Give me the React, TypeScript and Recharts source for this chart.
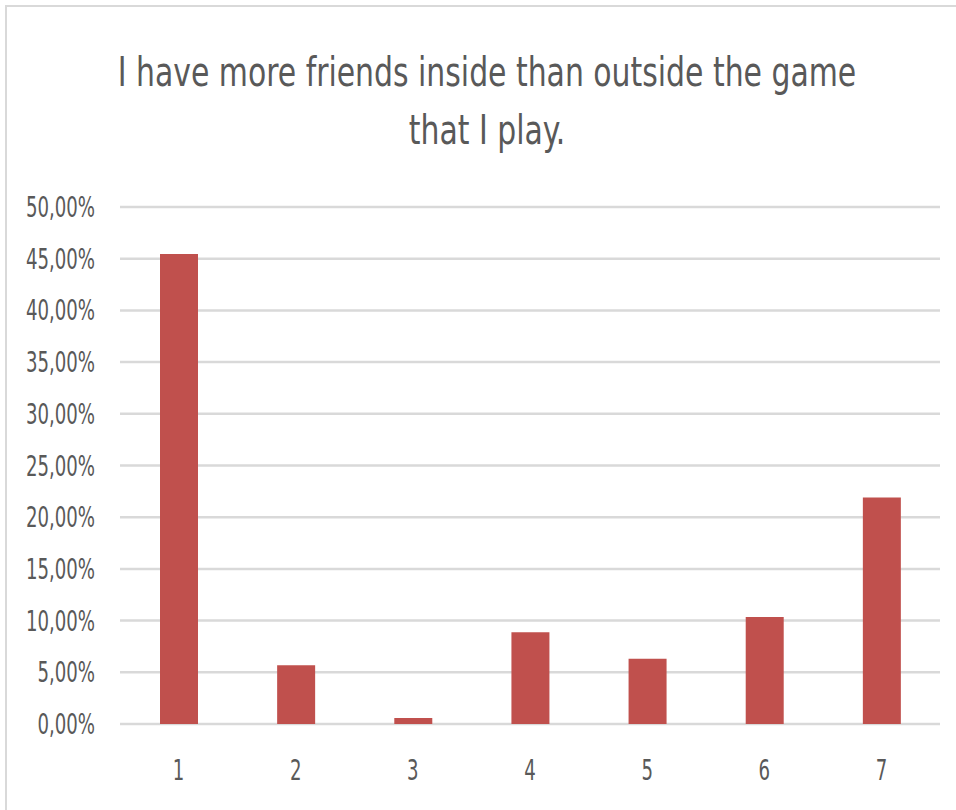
import React from 'react';
import { Bar, BarChart, CartesianGrid, XAxis, YAxis } from 'recharts';

// answers on the 1-7 scale, share of respondents
const categories = ['1', '2', '3', '4', '5', '6', '7'];
const shares = [0.4545, 0.0568, 0.0057, 0.0887, 0.063, 0.1035, 0.219];
const yTicks = [0, 0.05, 0.1, 0.15, 0.2, 0.25, 0.3, 0.35, 0.4, 0.45, 0.5];
const titleLines = ['I have more friends inside than outside the game', 'that I play.'];

const data = categories.map((name, i) => ({ name, value: shares[i] }));

const FONT = '"DejaVu Sans Condensed", "Liberation Sans", sans-serif';
const TEXT = '#595959';
const SQUEEZE = 0.72;

const fmtPct = (v: number) => (v * 100).toFixed(2).replace('.', ',') + '%';

// narrow tick text, like the Calibri labels of the original
const YTick = (props: any) => {
  const { x, y, payload } = props;
  return (
    <g transform={`translate(${x},${y}) scale(${SQUEEZE},1)`}>
      <text x={0} y={10} textAnchor="end" fill={TEXT} fontSize={28} fontFamily={FONT}>
        {fmtPct(payload.value)}
      </text>
    </g>
  );
};

const XTick = (props: any) => {
  const { x, y, payload } = props;
  return (
    <g transform={`translate(${x},${y}) scale(${SQUEEZE},1)`}>
      <text x={0} y={56} textAnchor="middle" fill={TEXT} fontSize={28} fontFamily={FONT}>
        {payload.value}
      </text>
    </g>
  );
};

export default function App() {
  return (
    <div
      style={{
        position: 'absolute',
        left: 0,
        top: 0,
        width: 956,
        height: 810,
        background: '#fff',
        overflow: 'hidden',
        fontFamily: FONT,
      }}
    >
      {/* chart frame, only top and left edges are visible in the crop */}
      <div
        style={{
          position: 'absolute',
          left: 5,
          top: 5,
          width: 1000,
          height: 900,
          borderTop: '2px solid #d9d9d9',
          borderLeft: '2px solid #d9d9d9',
        }}
      />
      <div
        style={{
          position: 'absolute',
          left: 0,
          width: 974,
          top: 43,
          textAlign: 'center',
          color: TEXT,
          fontSize: 40,
          lineHeight: '58px',
          transform: 'scaleX(0.83)',
          transformOrigin: '487px 0',
        }}
      >
        {titleLines.map((l) => (
          <div key={l}>{l}</div>
        ))}
      </div>
      <div style={{ position: 'absolute', left: 0, top: 0 }}>
        <BarChart
          width={956}
          height={810}
          data={data}
          margin={{ top: 207, right: 16, left: 0, bottom: 0 }}
          barSize={38}
        >
          <CartesianGrid vertical={false} stroke="#d9d9d9" strokeWidth={2.5} />
          <XAxis
            dataKey="name"
            axisLine={false}
            tickLine={false}
            tickSize={0}
            tickMargin={0}
            tick={<XTick />}
            height={86}
          />
          <YAxis
            domain={[0, 0.5]}
            ticks={yTicks}
            interval={0}
            axisLine={false}
            tickLine={false}
            tickSize={0}
            tickMargin={25}
            width={120}
            tick={<YTick />}
          />
          <Bar dataKey="value" fill="#c0504d" isAnimationActive={false} />
        </BarChart>
      </div>
    </div>
  );
}
